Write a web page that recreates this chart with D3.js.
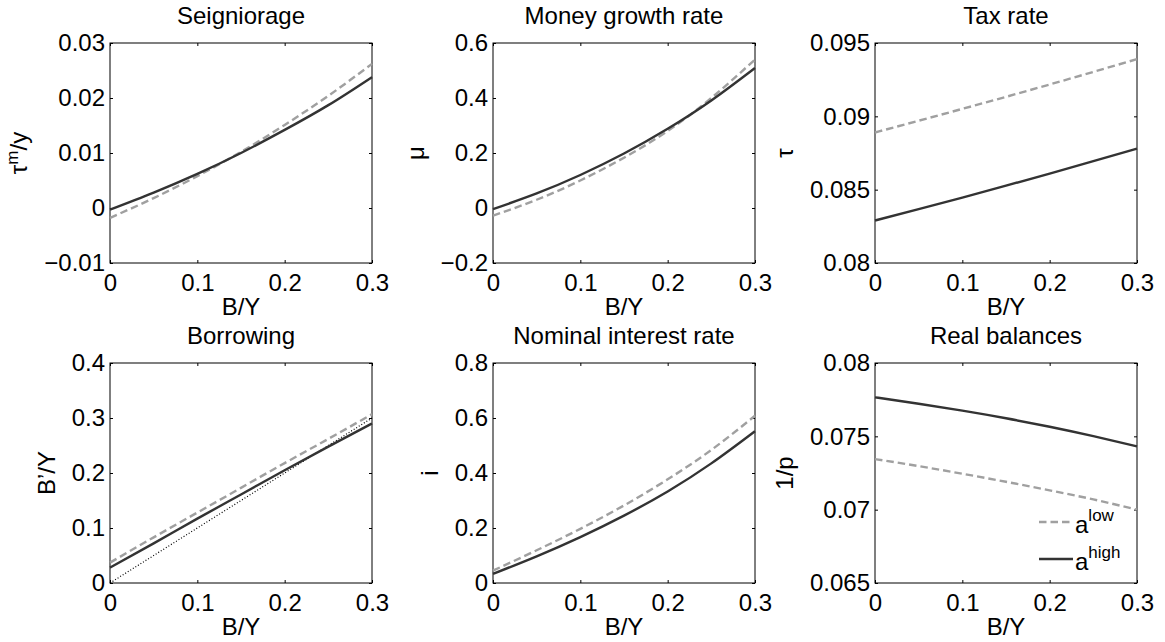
<!DOCTYPE html>
<html>
<head>
<meta charset="utf-8">
<script src="https://cdn.jsdelivr.net/npm/d3@7"></script>
<style>
  body { margin: 0; background: #fff; }
  text { font-family: "Liberation Sans", Arial, Helvetica, sans-serif; fill: #000; }
</style>
</head>
<body>
<script>

// B/Y grid shared by every panel
var bGrid = [0, 0.05, 0.1, 0.15, 0.2, 0.25, 0.3];
var xTicks = [0, 0.1, 0.2, 0.3];

// values: "low" = dashed grey, "high" = solid dark
var seignLow  = [-0.0018, 0.0018, 0.0058, 0.0102, 0.0151, 0.0204, 0.0262];
var seignHigh = [-0.0003, 0.0028, 0.0062, 0.0100, 0.0142, 0.0187, 0.0238];

var muLow  = [-0.028, 0.030, 0.100, 0.183, 0.280, 0.400, 0.540];
var muHigh = [-0.004, 0.053, 0.120, 0.198, 0.288, 0.391, 0.509];

var taxLow  = [0.0889, 0.08970, 0.09051, 0.09133, 0.09217, 0.09303, 0.0939];
var taxHigh = [0.0829, 0.08367, 0.08446, 0.08527, 0.08610, 0.08694, 0.0878];

var borrowLow  = [0.037, 0.083, 0.128, 0.173, 0.218, 0.262, 0.307];
var borrowHigh = [0.028, 0.072, 0.117, 0.161, 0.205, 0.248, 0.290];
var borrow45   = [0, 0.05, 0.1, 0.15, 0.2, 0.25, 0.3];

var iLow  = [0.045, 0.119, 0.197, 0.282, 0.377, 0.484, 0.608];
var iHigh = [0.033, 0.097, 0.167, 0.245, 0.333, 0.435, 0.552];

var realLow  = [0.07345, 0.07297, 0.07245, 0.07190, 0.07132, 0.07070, 0.0700];
var realHigh = [0.07766, 0.07722, 0.07675, 0.07623, 0.07565, 0.07501, 0.07432];

var panels = [
  {title: "Seigniorage", ylab: ["\u03c4", "m", "/y"], dom: [-0.01, 0.03], ticks: [-0.01, 0, 0.01, 0.02, 0.03], low: seignLow, high: seignHigh},
  {title: "Money growth rate", ylab: ["\u03bc"], dom: [-0.2, 0.6], ticks: [-0.2, 0, 0.2, 0.4, 0.6], low: muLow, high: muHigh},
  {title: "Tax rate", ylab: ["\u03c4"], dom: [0.08, 0.095], ticks: [0.08, 0.085, 0.09, 0.095], low: taxLow, high: taxHigh},
  {title: "Borrowing", ylab: ["B\u2019/Y"], dom: [0, 0.4], ticks: [0, 0.1, 0.2, 0.3, 0.4], low: borrowLow, high: borrowHigh, diag: borrow45},
  {title: "Nominal interest rate", ylab: ["i"], dom: [0, 0.8], ticks: [0, 0.2, 0.4, 0.6, 0.8], low: iLow, high: iHigh},
  {title: "Real balances", ylab: ["1/p"], dom: [0.065, 0.08], ticks: [0.065, 0.07, 0.075, 0.08], low: realLow, high: realHigh, legend: true}
];

var W = 1165, H = 642;
var lefts = [110, 493, 875], tops = [43, 363];
var pw = 262, ph = 220;
var fs = 24;
var darkCol = "#333333", lightCol = "#a0a0a0";

var svg = d3.select("body").append("svg")
    .attr("width", W)
    .attr("height", H);

var fmt = d3.format("~g");

panels.forEach(function(p, k) {
  var g = svg.append("g")
      .attr("transform", "translate(" + lefts[k % 3] + "," + tops[Math.floor(k / 3)] + ")");

  var x = d3.scaleLinear().domain([0, 0.3]).range([0, pw]);
  var y = d3.scaleLinear().domain(p.dom).range([ph, 0]);

  var line = d3.line()
      .x(function(d) { return x(d[0]); })
      .y(function(d) { return y(d[1]); })
      .curve(d3.curveNatural);

  // axes, ticks pointing inward on all four sides
  g.append("g").attr("transform", "translate(0," + ph + ")")
      .call(d3.axisBottom(x).tickValues(xTicks).tickFormat(fmt).tickSize(-3).tickPadding(11));
  g.append("g")
      .call(d3.axisTop(x).tickValues(xTicks).tickFormat("").tickSize(-3));
  var ay = g.append("g")
      .call(d3.axisLeft(y).tickValues(p.ticks).tickFormat(fmt).tickSize(-3).tickPadding(5));
  g.append("g").attr("transform", "translate(" + pw + ",0)")
      .call(d3.axisRight(y).tickValues(p.ticks).tickFormat("").tickSize(-3));

  g.selectAll(".domain").remove();
  g.selectAll(".tick line").attr("stroke", "#000").attr("stroke-width", 1);
  g.selectAll(".tick text")
      .attr("font-family", null).attr("font-size", null)
      .style("font-size", fs + "px").attr("fill", "#000");

  g.append("rect")
      .attr("width", pw).attr("height", ph)
      .attr("fill", "none").attr("stroke", "#000").attr("stroke-width", 1);

  // curves
  if (p.diag) {
    g.append("path")
        .datum(bGrid.map(function(b, i) { return [b, p.diag[i]]; }))
        .attr("d", line)
        .attr("fill", "none").attr("stroke", "#000").attr("stroke-width", 1.2)
        .attr("stroke-dasharray", "1,2");
  }
  g.append("path")
      .datum(bGrid.map(function(b, i) { return [b, p.low[i]]; }))
      .attr("d", line)
      .attr("fill", "none").attr("stroke", lightCol).attr("stroke-width", 2.4)
      .attr("stroke-dasharray", "7.5,4");
  g.append("path")
      .datum(bGrid.map(function(b, i) { return [b, p.high[i]]; }))
      .attr("d", line)
      .attr("fill", "none").attr("stroke", darkCol).attr("stroke-width", 2.4);

  // title and labels
  g.append("text")
      .attr("x", pw / 2).attr("y", -19)
      .attr("text-anchor", "middle")
      .style("font-size", fs + "px")
      .text(p.title);

  g.append("text")
      .attr("x", pw / 2).attr("y", ph + 52)
      .attr("text-anchor", "middle")
      .style("font-size", fs + "px")
      .text("B/Y");

  var tickLeft = d3.min(ay.selectAll(".tick text").nodes(), function(n) { return n.getBBox().x; });
  var yl = g.append("text")
      .attr("transform", "translate(" + (tickLeft - 17) + "," + (ph / 2) + ") rotate(-90)")
      .attr("text-anchor", "middle")
      .style("font-size", fs + "px");
  yl.append("tspan").text(p.ylab[0]);
  if (p.ylab.length > 1) {
    yl.append("tspan").attr("dy", -9).style("font-size", "17px").text(p.ylab[1]);
    yl.append("tspan").attr("dy", 9).text(p.ylab[2]);
  }

  if (p.legend) {
    var leg = g.append("g").attr("transform", "translate(164,159)");
    var items = [{col: lightCol, dash: "7.5,4", sup: "low"}, {col: darkCol, dash: null, sup: "high"}];
    items.forEach(function(it, j) {
      var row = leg.append("g").attr("transform", "translate(0," + (j * 37) + ")");
      row.append("line")
          .attr("x1", 0).attr("x2", 34)
          .attr("stroke", it.col).attr("stroke-width", 2.4)
          .attr("stroke-dasharray", it.dash);
      var t = row.append("text").attr("x", 36).attr("y", 11).style("font-size", fs + "px");
      t.append("tspan").text("a");
      t.append("tspan").attr("dy", -12).style("font-size", "17px").text(it.sup);
    });
  }
});
</script>
</body>
</html>
